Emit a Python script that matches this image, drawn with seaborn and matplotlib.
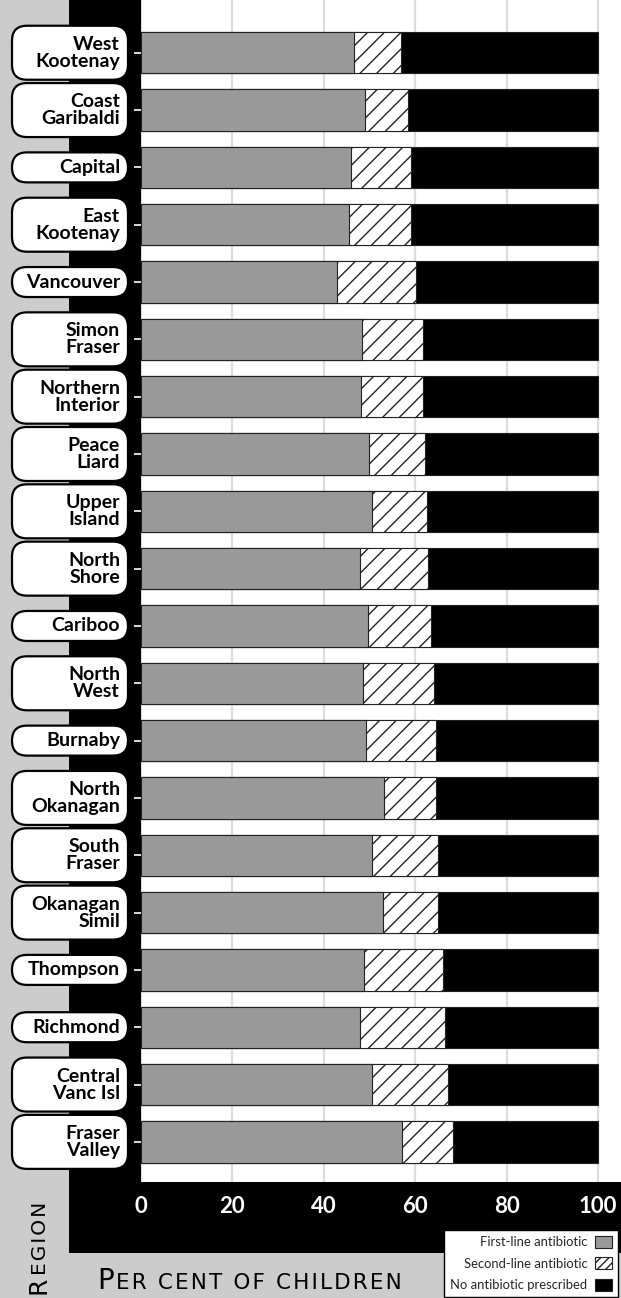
import matplotlib
matplotlib.use("Agg")
import matplotlib.pyplot as plt
from matplotlib.patches import Rectangle, FancyBboxPatch, Patch
from matplotlib.transforms import IdentityTransform
import numpy as np
import pandas as pd
import seaborn as sns

# ---- data -------------------------------------------------------------
regions = [
    "West\nKootenay", "Coast\nGaribaldi", "Capital", "East\nKootenay",
    "Vancouver", "Simon\nFraser", "Northern\nInterior", "Peace\nLiard",
    "Upper\nIsland", "North\nShore", "Cariboo", "North\nWest", "Burnaby",
    "North\nOkanagan", "South\nFraser", "Okanagan\nSimil", "Thompson",
    "Richmond", "Central\nVanc Isl", "Fraser\nValley",
]
first_line = [46.6, 49.0, 46.0, 45.5, 42.9, 48.4, 48.1, 49.9, 50.5, 47.9,
              49.7, 48.6, 49.2, 53.2, 50.5, 53.0, 48.8, 47.9, 50.5, 57.1]
second_line = [10.3, 9.4, 13.1, 13.6, 17.3, 13.3, 13.6, 12.2, 12.1, 14.9,
               13.8, 15.5, 15.4, 11.4, 14.5, 12.0, 17.3, 18.6, 16.7, 11.2]
no_antibiotic = [43.1, 41.6, 40.9, 40.9, 39.8, 38.3, 38.3, 37.9, 37.4, 37.2,
                 36.5, 35.9, 35.4, 35.4, 35.0, 35.0, 33.9, 33.5, 32.8, 31.7]
x_ticks = [0, 20, 40, 60, 80, 100]
series_labels = ["First-line antibiotic", "Second-line antibiotic",
                 "No antibiotic prescribed"]

# ---- style ------------------------------------------------------------
sns.set_theme(style="white")
plt.rcParams["font.family"] = ["Lato", "DejaVu Sans"]
plt.rcParams["hatch.linewidth"] = 1.0

W, H = 621, 1298
DPI = 100
GRAY_BG = "#cccccc"
BAR_GRAY = "#999999"
EDGE = "#222222"

fig = plt.figure(figsize=(W / DPI, H / DPI), dpi=DPI, facecolor=GRAY_BG)

# dark panel behind the category labels and the x tick labels
fig.patches.append(Rectangle((69 / W, 1 - 1253 / H), 1, 1253 / H,
                             transform=fig.transFigure, facecolor="black",
                             edgecolor="none", zorder=-1))

ax_left, ax_bottom = 141, 1182
ax = fig.add_axes([ax_left / W, 1 - ax_bottom / H, (W - ax_left) / W, ax_bottom / H])
ax.set_facecolor("white")

df = pd.DataFrame({
    "region": regions,
    "first": first_line,
    "second": second_line,
    "none": no_antibiotic,
})
df["cum_second"] = df["first"] + df["second"]
df["cum_all"] = df["cum_second"] + df["none"]

bar_kw = dict(orient="h", width=0.72, saturation=1, edgecolor=EDGE,
              linewidth=0.8, ax=ax, zorder=2)
sns.barplot(data=df, x="cum_all", y="region", color="black", **bar_kw)
sns.barplot(data=df, x="cum_second", y="region", color="white", hatch="//", **bar_kw)
sns.barplot(data=df, x="first", y="region", color=BAR_GRAY, **bar_kw)

ax.set_xlim(0, 105)
ax.set_ylim(19.70, -0.92)
ax.set_xlabel("")
ax.set_ylabel("")
for s in ax.spines.values():
    s.set_visible(False)

ax.set_xticks(x_ticks)
ax.set_xticklabels([str(t) for t in x_ticks])
ax.xaxis.grid(True, color="#dddddd", linewidth=1.6, zorder=0)
ax.set_axisbelow(True)
ax.tick_params(axis="x", length=0, pad=10, labelcolor="white", labelsize=16)
for lbl in ax.get_xticklabels():
    lbl.set_fontweight("bold")

ax.set_yticks(range(len(regions)))
ax.set_yticklabels([])
ax.tick_params(axis="y", left=True, length=5, width=1.2, color="white",
               direction="out")

# ---- rounded label boxes ---------------------------------------------
box_x0, box_x1 = 12, 128
for i, name in enumerate(regions):
    yc = ax.transData.transform((0, i))[1]
    two = "\n" in name
    h = 54 if two else 30
    box = FancyBboxPatch((box_x0, yc - h / 2), box_x1 - box_x0, h,
                         boxstyle="round,pad=0,rounding_size=15",
                         transform=IdentityTransform(), facecolor="white",
                         edgecolor="black", linewidth=1.6, zorder=3)
    fig.patches.append(box)
    fig.text(120, yc, name, transform=IdentityTransform(), ha="right",
             va="center", multialignment="right", fontsize=14,
             fontweight="bold", linespacing=1.0, color="black", zorder=4)

# ---- axis titles in letter-spaced small caps -------------------------
HAIR = "\u200a"
def spaced(s):
    return HAIR.join(s)

lbl_kw = dict(color="black", family=["DejaVu Sans"], fontweight="normal")
tP = fig.text(97 / W, 1 - 1289 / H, "P", fontsize=20, va="baseline", ha="left", **lbl_kw)
tR = fig.text(46 / W, 1 - 1294 / H, "R", fontsize=18, rotation=90,
              rotation_mode="anchor", ha="left", va="baseline", **lbl_kw)
fig.canvas.draw()
bP = tP.get_window_extent()
fig.text((bP.x1 + 2) / W, 1 - 1289 / H, spaced("ER CENT OF CHILDREN"), fontsize=15.5,
         va="baseline", ha="left", **lbl_kw)
bR = tR.get_window_extent()
fig.text(46 / W, (bR.y1 + 2) / H, spaced("EGION"), fontsize=14.5, rotation=90,
         rotation_mode="anchor", ha="left", va="baseline", **lbl_kw)

# ---- legend -----------------------------------------------------------
handles = [
    Patch(facecolor=BAR_GRAY, edgecolor=EDGE, linewidth=0.8),
    Patch(facecolor="white", edgecolor=EDGE, linewidth=0.8, hatch="////"),
    Patch(facecolor="black", edgecolor=EDGE, linewidth=0.8),
]
leg = fig.legend(handles, series_labels, loc="lower right",
                 bbox_to_anchor=(618 / W, 1 - 1297 / H), markerfirst=False,
                 fontsize=9.4, frameon=True, fancybox=False, framealpha=1,
                 edgecolor="black", handlelength=1.3, handleheight=1.05,
                 handletextpad=0.6, labelspacing=0.68, borderpad=0.45,
                 borderaxespad=0)
leg.get_frame().set_linewidth(1.0)
leg._legend_handle_box.get_children()[0].align = "right"

fig.savefig("out.png", dpi=DPI, facecolor=GRAY_BG)
